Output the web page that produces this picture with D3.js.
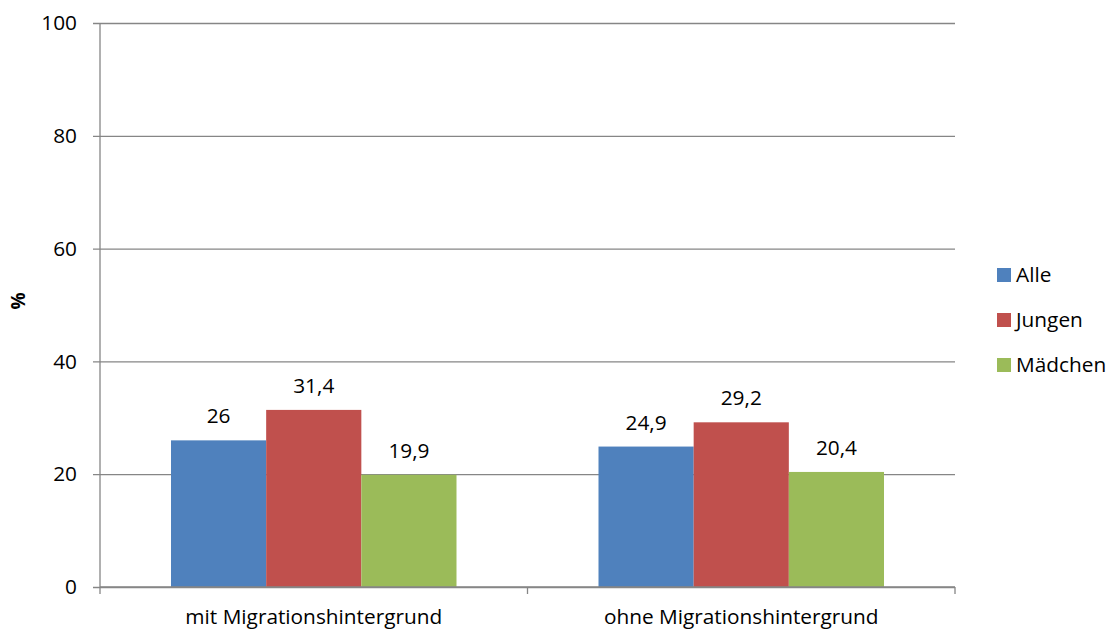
<!DOCTYPE html>
<html>
<head>
<meta charset="utf-8">
<script src="https://cdn.jsdelivr.net/npm/d3@7"></script>
<style>
  html, body { margin: 0; padding: 0; background: #fff; }
  svg { display: block; font-family: "Open Sans", "Liberation Sans", sans-serif; }
</style>
</head>
<body>
<div id="chart"></div>
<script>
/* ── Data ── */
const categories = ['mit Migrationshintergrund', 'ohne Migrationshintergrund'];
const seriesNames = ['Alle', 'Jungen', 'Mädchen'];
const seriesColors = ['#4F81BD', '#C0504D', '#9BBB59'];
const alleValues    = [26, 24.9];
const jungenValues  = [31.4, 29.2];
const maedchenValues = [19.9, 20.4];
const values = { 'Alle': alleValues, 'Jungen': jungenValues, 'Mädchen': maedchenValues };
const yTicks = [0, 20, 40, 60, 80, 100];

/* ── Layout ── */
const W = 1115, H = 630;
const plot = { left: 100, right: 955, top: 23, bottom: 587 };
const GRID = '#868686';
const FS = 20.8;

const svg = d3.select('#chart').append('svg')
  .attr('width', W).attr('height', H);

const x0 = d3.scaleBand()
  .domain(categories)
  .range([plot.left, plot.right]);

const groupPad = 71;
const x1 = d3.scaleBand()
  .domain(seriesNames)
  .range([groupPad, x0.bandwidth() - groupPad]);

const y = d3.scaleLinear().domain([0, 100]).range([plot.bottom, plot.top]);

/* gridlines + y tick labels */
const yAxis = svg.append('g')
  .attr('transform', `translate(${plot.left},0)`)
  .call(d3.axisLeft(y).tickValues(yTicks).tickSize(0).tickPadding(23));
yAxis.select('.domain').remove();
yAxis.selectAll('.tick line')
  .attr('stroke', GRID).attr('stroke-width', 1.3)
  .attr('x1', -7).attr('x2', plot.right - plot.left);
yAxis.selectAll('.tick text')
  .attr('font-size', FS).attr('fill', '#000')
  .attr('font-family', '"Open Sans", sans-serif');

/* bars */
seriesNames.forEach((s, i) => {
  const g = svg.append('g');
  const data = categories.map((c, j) => ({ c, v: values[s][j] }));
  g.selectAll('rect')
    .data(data)
    .join('rect')
    .attr('x', d => x0(d.c) + x1(s))
    .attr('y', d => y(d.v))
    .attr('width', x1.bandwidth())
    .attr('height', d => y(0) - y(d.v))
    .attr('fill', seriesColors[i]);
  g.selectAll('text')
    .data(data)
    .join('text')
    .attr('x', d => x0(d.c) + x1(s) + x1.bandwidth() / 2)
    .attr('y', d => y(d.v) - 17)
    .attr('text-anchor', 'middle')
    .attr('font-size', FS)
    .text(d => String(d.v).replace('.', ','));
});

/* vertical y axis line */
svg.append('line')
  .attr('x1', plot.left).attr('x2', plot.left)
  .attr('y1', plot.top).attr('y2', plot.bottom)
  .attr('stroke', GRID).attr('stroke-width', 1.3);

/* x axis with category ticks */
const xAxis = svg.append('g')
  .attr('transform', `translate(0,${plot.bottom})`);
xAxis.append('line')
  .attr('x1', plot.left).attr('x2', plot.right)
  .attr('stroke', GRID).attr('stroke-width', 1.3);
const bounds = categories.map(c => x0(c)).concat([plot.right]);
xAxis.selectAll('line.tk')
  .data(bounds).join('line').attr('class', 'tk')
  .attr('x1', d => d).attr('x2', d => d)
  .attr('y1', 0).attr('y2', 7)
  .attr('stroke', GRID).attr('stroke-width', 1.3);
xAxis.selectAll('text')
  .data(categories).join('text')
  .attr('x', d => x0(d) + x0.bandwidth() / 2)
  .attr('y', 37)
  .attr('text-anchor', 'middle')
  .attr('font-size', FS)
  .text(d => d);

/* y axis title */
svg.append('text')
  .attr('transform', 'translate(25,301) rotate(-90)')
  .attr('text-anchor', 'middle')
  .attr('font-size', 19)
  .attr('font-weight', 'bold')
  .text('%');

/* legend */
const legend = svg.append('g').attr('transform', 'translate(997,275)');
seriesNames.forEach((s, i) => {
  const row = legend.append('g').attr('transform', `translate(0,${i * 45})`);
  row.append('rect').attr('x', 0).attr('y', -7).attr('width', 14).attr('height', 14).attr('fill', seriesColors[i]);
  row.append('text').attr('x', 19).attr('y', 7).attr('font-size', FS).text(s);
});
</script>
</body>
</html>
